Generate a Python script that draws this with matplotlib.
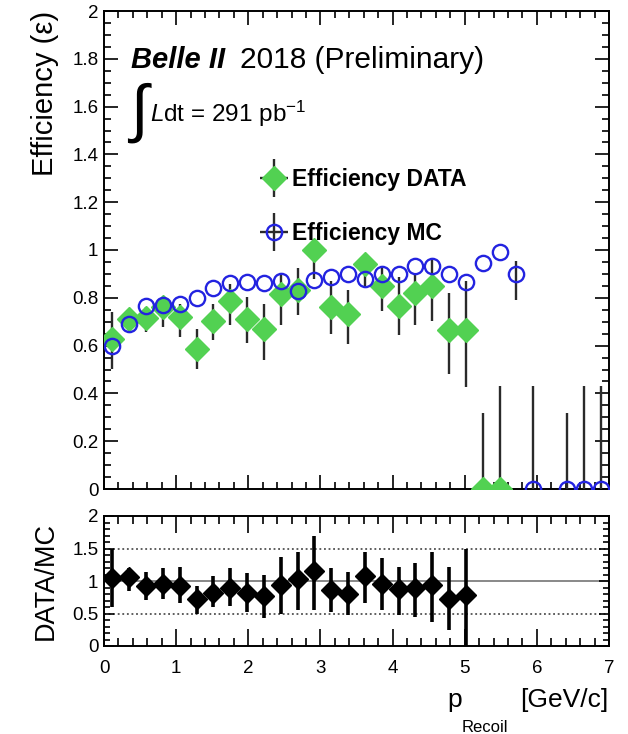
import numpy as np
import matplotlib
matplotlib.use("Agg")
import matplotlib.pyplot as plt
from matplotlib.ticker import MultipleLocator
from matplotlib.legend_handler import HandlerErrorbar

plt.rcParams['font.family'] = ['Liberation Sans', 'DejaVu Sans']
plt.rcParams['mathtext.fontset'] = 'custom'
plt.rcParams['mathtext.rm'] = 'Liberation Sans'
plt.rcParams['mathtext.it'] = 'Liberation Sans:italic'

nan = np.nan
# bin centres of p_Recoil [GeV/c]
p_centers = [0.117, 0.350, 0.583, 0.817, 1.050, 1.283, 1.517, 1.750, 1.983, 2.217,
             2.450, 2.683, 2.917, 3.150, 3.383, 3.617, 3.850, 4.083, 4.317, 4.550,
             4.783, 5.017, 5.250, 5.483, 5.717, 5.950, 6.183, 6.417, 6.650, 6.883]

eff_data = [0.628, 0.711, 0.715, 0.762, 0.721, 0.586, 0.704, 0.785, 0.711, 0.670,
            0.815, 0.832, 0.999, 0.762, 0.732, 0.943, 0.850, 0.767, 0.818, 0.850,
            0.665, 0.665, 0.0, 0.0, nan, nan, nan, nan, nan, nan]
data_err_up = [0.111, 0.030, 0.047, 0.040, 0.053, 0.084, 0.072, 0.072, 0.093, 0.106,
               0.090, 0.092, 0.000, 0.108, 0.100, 0.030, 0.083, 0.118, 0.087, 0.107,
               0.153, 0.205, 0.320, 0.430, nan, nan, nan, nan, nan, nan]
data_err_lo = [0.125, 0.030, 0.060, 0.086, 0.083, 0.083, 0.080, 0.097, 0.101, 0.132,
               0.127, 0.103, 0.120, 0.112, 0.125, 0.093, 0.104, 0.121, 0.130, 0.146,
               0.183, 0.239, 0.0, 0.0, nan, nan, nan, nan, nan, nan]

eff_mc = [0.600, 0.690, 0.767, 0.771, 0.776, 0.801, 0.840, 0.864, 0.868, 0.860,
          0.871, 0.829, 0.874, 0.885, 0.901, 0.878, 0.899, 0.901, 0.933, 0.933,
          0.901, 0.868, 0.947, 0.993, 0.899, 0.0, nan, 0.0, 0.0, 0.0]
mc_err_up = [0.0, 0.0, 0.0, 0.0, 0.0, 0.0, 0.0, 0.0, 0.0, 0.0,
             0.0, 0.0, 0.0, 0.0, 0.0, 0.0, 0.0, 0.0, 0.0, 0.0,
             0.0, 0.0, 0.0, 0.0, 0.055, 0.430, nan, 0.320, 0.430, 0.430]
mc_err_lo = [0.0, 0.0, 0.0, 0.0, 0.0, 0.0, 0.0, 0.0, 0.0, 0.0,
             0.0, 0.0, 0.0, 0.0, 0.0, 0.0, 0.0, 0.0, 0.0, 0.0,
             0.0, 0.0, 0.0, 0.0, 0.110, 0.0, nan, 0.0, 0.0, 0.0]

ratio = [1.04, 1.06, 0.92, 0.95, 0.92, 0.72, 0.81, 0.90, 0.82, 0.77,
         0.94, 1.03, 1.16, 0.86, 0.80, 1.07, 0.96, 0.87, 0.89, 0.94, 0.72, 0.785]
ratio_hi = [1.49, 1.195, 1.14, 1.195, 1.22, 0.92, 1.07, 1.195, 1.12, 1.09,
            1.37, 1.44, 1.69, 1.195, 1.14, 1.45, 1.35, 1.22, 1.27, 1.45, 1.22, 1.49]
ratio_lo = [0.60, 0.85, 0.71, 0.73, 0.66, 0.50, 0.60, 0.615, 0.53, 0.43,
            0.49, 0.56, 0.56, 0.53, 0.48, 0.66, 0.55, 0.48, 0.45, 0.37, 0.25, 0.0]

GREEN = '#52d152'
BLUE = '#2323e0'
ERRC = '#2a2a2a'

W, H = 628, 734
fig = plt.figure(figsize=(W / 100, H / 100), dpi=100)

def frac(x0, y0, x1, y1):
    return [x0 / W, 1 - y1 / H, (x1 - x0) / W, (y1 - y0) / H]

ax = fig.add_axes(frac(104, 11, 609, 489))
axr = fig.add_axes(frac(104, 516, 609, 646))

x = np.array(p_centers)
ax.errorbar(x, eff_data, yerr=[data_err_lo, data_err_up], fmt='D', color=GREEN,
            ms=12, mec=GREEN, ecolor=ERRC, elinewidth=1.7, capsize=0, zorder=3)
ax.errorbar(x, eff_mc, yerr=[mc_err_lo, mc_err_up], fmt='o', mfc='none', mec=BLUE,
            ms=11, mew=1.7, ecolor=ERRC, elinewidth=1.7, capsize=0, zorder=4)

ax.set_xlim(0, 7)
ax.set_ylim(0, 2)
ax.xaxis.set_major_locator(MultipleLocator(1))
ax.xaxis.set_minor_locator(MultipleLocator(0.2))
ax.yaxis.set_minor_locator(MultipleLocator(0.05))
ax.set_yticks([0, 0.2, 0.4, 0.6, 0.8, 1.0, 1.2, 1.4, 1.6, 1.8, 2.0])
ax.set_yticklabels(['0', '0.2', '0.4', '0.6', '0.8', '1', '1.2', '1.4', '1.6', '1.8', '2'])
ax.tick_params(axis='both', which='both', direction='in', top=True, right=True,
               labelbottom=False, labelsize=13.5, width=1.2, pad=4)
ax.tick_params(axis='both', which='major', length=10)
ax.tick_params(axis='both', which='minor', length=5)
for s in ax.spines.values():
    s.set_linewidth(1.4)
ax.set_ylabel('Efficiency (ε)', fontsize=21, loc='top')
ax.yaxis.set_label_coords(-0.09, 1.0)

# Legend
hd = ax.errorbar([nan], [nan], xerr=[1], yerr=[1], fmt='D', color=GREEN, ms=12,
                 mec=GREEN, ecolor=ERRC, elinewidth=1.7, capsize=0)
hm = ax.errorbar([nan], [nan], xerr=[1], yerr=[1], fmt='o', mfc='none', mec=BLUE, ms=11,
                 mew=1.7, ecolor=ERRC, elinewidth=1.7, capsize=0)
ax.legend([hd, hm], ['Efficiency DATA', 'Efficiency MC'], loc='upper left',
          bbox_to_anchor=(0.259, 0.715), frameon=False, handlelength=1.6,
          handletextpad=0.0, labelspacing=1.35,
          handler_map={type(hd): HandlerErrorbar(xerr_size=0.6, yerr_size=0.83)},
          prop={'weight': 'bold', 'size': 16.5})

ax.text(0.0535, 0.881, 'Belle II', transform=ax.transAxes, fontsize=21,
        va='baseline', ha='left', fontweight='bold', style='italic')
ax.text(0.269, 0.881, '2018 (Preliminary)', transform=ax.transAxes, fontsize=21.5,
        va='baseline', ha='left')
ax.text(0.052, 0.751, '∫', transform=ax.transAxes, fontsize=46,
        va='baseline', ha='left')
ax.text(0.091, 0.768, r'$L$dt = 291 pb$^{\mathregular{-1}}$', transform=ax.transAxes,
        fontsize=17.5, va='baseline', ha='left')

# Ratio panel
r = np.array(ratio)
xr = x[:len(r)]
rerr = [r - np.array(ratio_lo), np.array(ratio_hi) - r]
axr.axhline(1.0, color='#888888', lw=1.4, zorder=1)
axr.axhline(0.5, color='#333333', lw=1.1, ls=(0, (1.2, 1.8)), zorder=1)
axr.axhline(1.5, color='#333333', lw=1.1, ls=(0, (1.2, 1.8)), zorder=1)
axr.errorbar(xr, r, yerr=rerr, fmt='D', color='black', ms=10.5, ecolor='black',
             elinewidth=2.6, capsize=0, zorder=3)
axr.set_xlim(0, 7)
axr.set_ylim(0, 2)
axr.xaxis.set_major_locator(MultipleLocator(1))
axr.xaxis.set_minor_locator(MultipleLocator(0.2))
axr.set_yticks([0, 0.5, 1, 1.5, 2])
axr.set_yticklabels(['0', '0.5', '1', '1.5', '2'])
axr.yaxis.set_minor_locator(MultipleLocator(0.1))
axr.tick_params(axis='both', which='both', direction='in', top=True, right=True,
                labelsize=13.5, width=1.2, pad=4)
axr.tick_params(axis='x', which='both', pad=10)
axr.tick_params(axis='x', which='major', length=12)
axr.tick_params(axis='x', which='minor', length=6)
axr.tick_params(axis='y', which='major', length=7)
axr.tick_params(axis='y', which='minor', length=4)
for s in axr.spines.values():
    s.set_linewidth(1.4)
axr.set_ylabel('DATA/MC', fontsize=19.5)
axr.yaxis.set_label_coords(-0.09, 0.5)

# x label with ROOT-style subscript
fig.text(447 / W, 1 - 707 / H, 'p', fontsize=19, ha='left', va='baseline')
fig.text(462 / W, 1 - 732 / H, 'Recoil', fontsize=12, ha='left', va='baseline')
fig.text(608 / W, 1 - 707 / H, '[GeV/c]', fontsize=19, ha='right', va='baseline')

fig.savefig('out.png', dpi=100)
